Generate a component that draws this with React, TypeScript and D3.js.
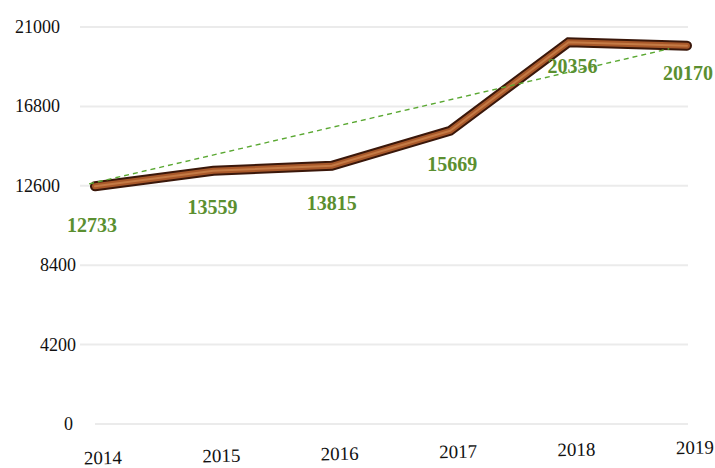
import React, { useEffect, useRef } from "react";
import * as d3 from "d3";

const years = ["2014", "2015", "2016", "2017", "2018", "2019"];
const values = [12733, 13559, 13815, 15669, 20356, 20170];
const yTicks = [0, 4200, 8400, 12600, 16800, 21000];
// dashed trend line ends: [year index, value]
const trendPoints: [number, number][] = [
  [-0.05, 12700],
  [4.85, 19850],
];

const W = 715;
const H = 468;

const App = () => {
  const ref = useRef<SVGSVGElement>(null);

  useEffect(() => {
    const svg = d3.select(ref.current);
    svg.selectAll("*").remove();

    const x = d3.scaleLinear().domain([0, 5]).range([95, 687]);
    const y = d3.scaleLinear().domain([0, 21000]).range([424, 27]);
    const font = "'Liberation Serif', 'Times New Roman', serif";

    // gridlines
    svg
      .append("g")
      .selectAll("line")
      .data(yTicks)
      .join("line")
      .attr("x1", (d) => (d === 0 ? 95 : 80))
      .attr("x2", 688)
      .attr("y1", (d) => y(d))
      .attr("y2", (d) => y(d))
      .attr("stroke", "#ebebeb")
      .attr("stroke-width", 2);

    // y labels
    svg
      .append("g")
      .selectAll("text")
      .data(yTicks)
      .join("text")
      .attr("x", (d) => (d === 0 ? 73 : d >= 12600 ? 60 : 76))
      .attr("y", (d) => y(d) + 6)
      .attr("text-anchor", "end")
      .attr("font-family", font)
      .attr("font-size", 18)
      .attr("fill", "#111")
      .text((d) => d);

    // x labels, slightly tilted like the reference
    svg
      .append("g")
      .attr("transform", "rotate(-1, 400, 458)")
      .selectAll("text")
      .data(years)
      .join("text")
      .attr("x", (d, i) => x(i) + 8)
      .attr("y", 459)
      .attr("text-anchor", "middle")
      .attr("font-family", font)
      .attr("font-size", 19)
      .attr("fill", "#111")
      .text((d) => d);

    const line = d3
      .line<number>()
      .x((d, i) => x(i))
      .y((d) => y(d) + 3);

    // thick rope-like line
    const layers = [
      { c: "#3a170a", w: 10 },
      { c: "#a8582a", w: 6 },
      { c: "#c47a45", w: 2 },
    ];
    layers.forEach((l) => {
      svg
        .append("path")
        .datum(values)
        .attr("d", line)
        .attr("fill", "none")
        .attr("stroke", l.c)
        .attr("stroke-width", l.w)
        .attr("stroke-linejoin", "miter")
        .attr("stroke-linecap", "round");
    });

    // trend line
    svg
      .append("line")
      .attr("x1", x(trendPoints[0][0]))
      .attr("y1", y(trendPoints[0][1]))
      .attr("x2", x(trendPoints[1][0]))
      .attr("y2", y(trendPoints[1][1]))
      .attr("stroke", "#5aa832")
      .attr("stroke-width", 1.4)
      .attr("stroke-dasharray", "5,4");

    // value labels
    const dy = [42, 39, 40, 36, 27, 30];
    const dx = [-3, -1, 0, 2, 4, 1];
    svg
      .append("g")
      .selectAll("text")
      .data(values)
      .join("text")
      .attr("x", (d, i) => x(i) + dx[i])
      .attr("y", (d, i) => y(d) + dy[i] + 7)
      .attr("text-anchor", "middle")
      .attr("font-family", font)
      .attr("font-weight", "bold")
      .attr("font-size", 20)
      .attr("fill", "#5b8f30")
      .text((d) => d);
  }, []);

  return (
    <svg
      ref={ref}
      width={W}
      height={H}
      style={{ position: "absolute", left: 0, top: 0, background: "#fff" }}
    />
  );
};

export default App;
